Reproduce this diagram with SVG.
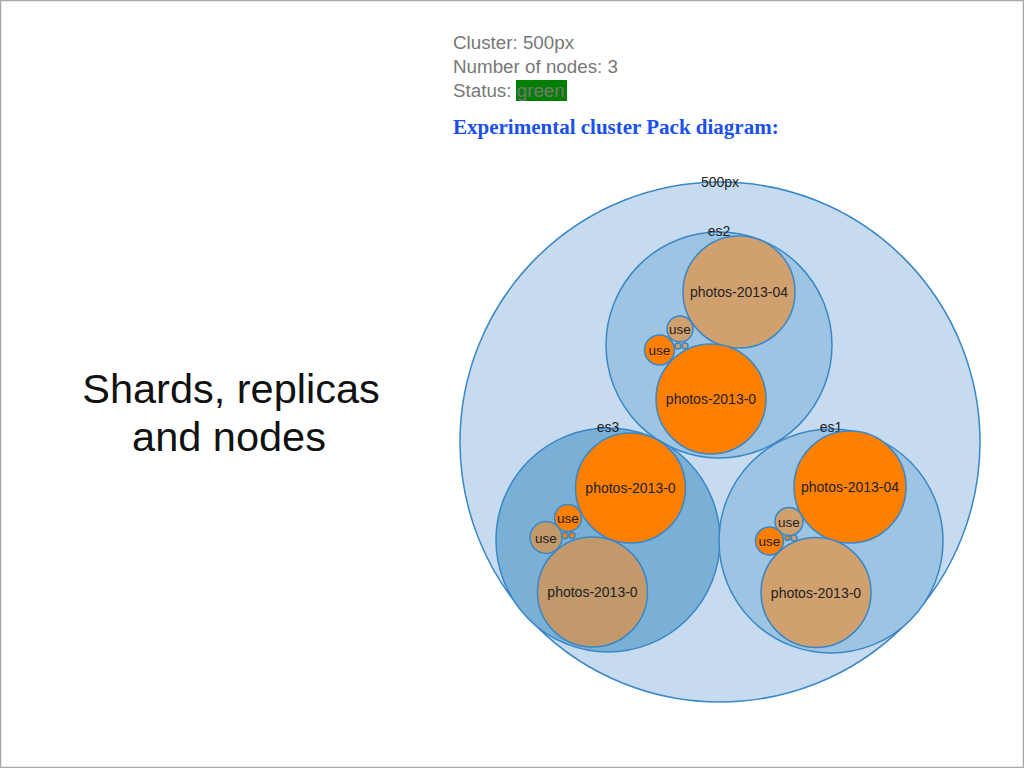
<svg xmlns="http://www.w3.org/2000/svg" width="1024" height="768" viewBox="0 0 1024 768">
<style>
.c{stroke:#3a87c6;stroke-width:1.5}
.outer{fill:#c6dbef}
.node{fill:#9dc4e3}
.node3{fill:#7aafd6}
.or{fill:#ff8000}
.tan{fill:#d0a06f}
.tan2{fill:#c2996a}
.lbl{font-family:"Liberation Sans",Arial,sans-serif;font-size:14px;fill:#222;text-anchor:middle}
.u{font-size:13.5px}
.info{font-family:"Liberation Sans",Arial,sans-serif;font-size:18.8px;fill:#777}
</style>
<rect x="0.5" y="0.5" width="1023" height="767" fill="#ffffff" stroke="#a8a8a8" stroke-width="1.5"/>
<g id="title">
<text x="231" y="403" font-family="Liberation Sans, Arial, sans-serif" font-size="41.5" fill="#111" text-anchor="middle">Shards, replicas</text>
<text x="229" y="451" font-family="Liberation Sans, Arial, sans-serif" font-size="41.5" fill="#111" text-anchor="middle">and nodes</text>
</g>
<g id="info">
<text class="info" x="453" y="49">Cluster: 500px</text>
<text class="info" x="453" y="73">Number of nodes: 3</text>
<rect x="516" y="80" width="51" height="21" fill="#008000"/>
<text class="info" x="453" y="97">Status: green</text>
<text x="453" y="134" font-family="Liberation Serif, 'Times New Roman', serif" font-weight="bold" font-size="21" fill="#1a50f0">Experimental cluster Pack diagram:</text>
</g>
<g id="cluster">
<circle class="c outer" cx="720" cy="442" r="260"/>
<text class="lbl" x="720" y="187">500px</text>
</g>
<g id="es2">
<circle class="c node" cx="719" cy="345" r="113"/>
<text class="lbl" x="719" y="236">es2</text>
<circle class="c tan" cx="739" cy="292" r="56"/>
<text class="lbl" x="739" y="297">photos-2013-04</text>
<circle class="c or" cx="711" cy="399" r="55"/>
<text class="lbl" x="711" y="404">photos-2013-0</text>
<circle class="c tan" cx="680" cy="329" r="13"/>
<text class="lbl u" x="680" y="334">use</text>
<circle class="c or" cx="659.5" cy="350" r="15"/>
<text class="lbl u" x="659.5" y="355">use</text>
<circle class="c tan" cx="678" cy="346" r="3" stroke-width="1"/>
<circle class="c tan" cx="685" cy="346" r="3" stroke-width="1"/>
</g>
<g id="es3">
<circle class="c node3" cx="608" cy="540" r="112"/>
<text class="lbl" x="608" y="432">es3</text>
<circle class="c or" cx="630.5" cy="488" r="55"/>
<text class="lbl" x="630.5" y="493">photos-2013-0</text>
<circle class="c tan2" cx="592.5" cy="592" r="55"/>
<text class="lbl" x="592.5" y="597">photos-2013-0</text>
<circle class="c or" cx="568" cy="518" r="13.5"/>
<text class="lbl u" x="568" y="523">use</text>
<circle class="c tan2" cx="546" cy="537.5" r="16"/>
<text class="lbl u" x="546" y="542.5">use</text>
<circle class="c or" cx="565" cy="535.5" r="3" stroke-width="1"/>
<circle class="c or" cx="572" cy="535.5" r="3" stroke-width="1"/>
</g>
<g id="es1">
<circle class="c node" cx="831" cy="541" r="112"/>
<text class="lbl" x="831" y="432">es1</text>
<circle class="c or" cx="850" cy="487" r="56"/>
<text class="lbl" x="850" y="492">photos-2013-04</text>
<circle class="c tan" cx="816" cy="592.5" r="55"/>
<text class="lbl" x="816" y="597.5">photos-2013-0</text>
<circle class="c tan" cx="789" cy="521.5" r="14"/>
<text class="lbl u" x="789" y="526.5">use</text>
<circle class="c or" cx="769.5" cy="541" r="14"/>
<text class="lbl u" x="769.5" y="546">use</text>
<circle class="c or" cx="787.5" cy="538" r="2.5" stroke-width="1"/>
<circle class="c tan" cx="794" cy="538" r="3" stroke-width="1"/>
</g>
</svg>
